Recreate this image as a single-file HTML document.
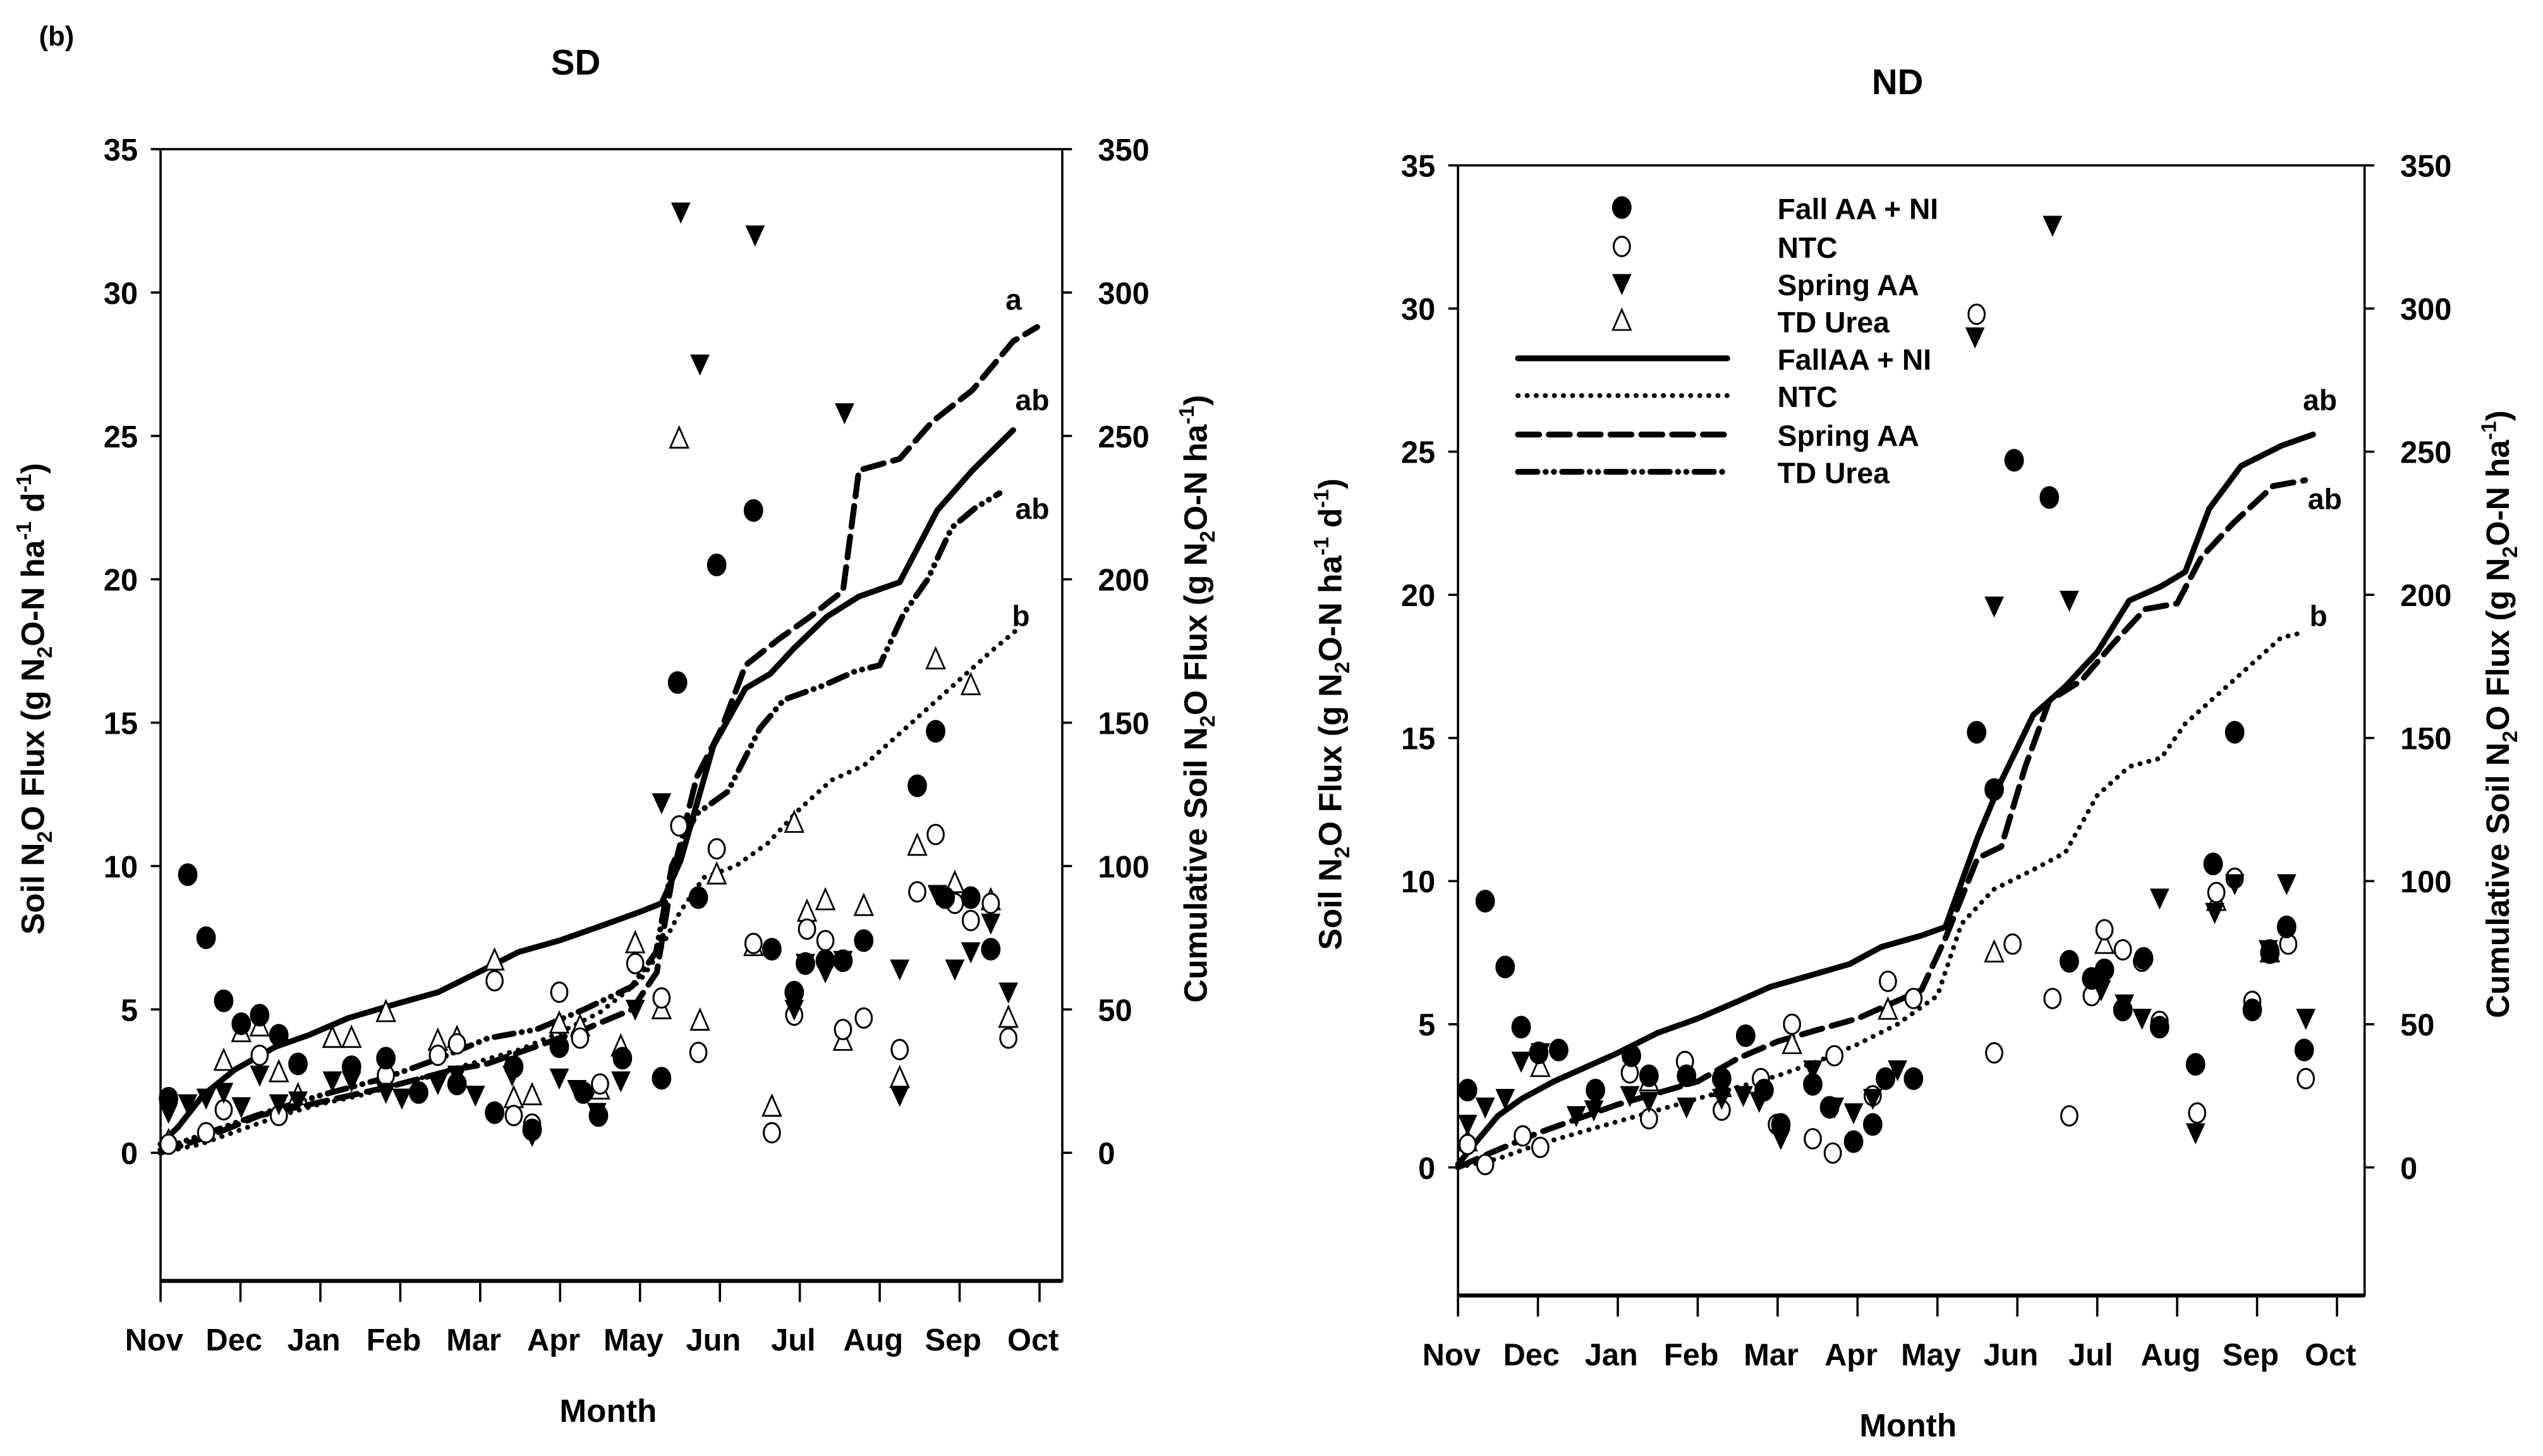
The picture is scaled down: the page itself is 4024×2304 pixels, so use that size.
<!DOCTYPE html>
<html><head><meta charset="utf-8"><style>
html,body{margin:0;padding:0;background:#fff;}
svg{display:block;}
text{font-family:"Liberation Sans Narrow","Liberation Sans",sans-serif;font-weight:bold;fill:#000;}
</style></head><body>
<svg id="chart" width="4024" height="2304" viewBox="0 0 1568 898" preserveAspectRatio="none" xmlns="http://www.w3.org/2000/svg">
<text x="24" y="28" font-size="17" font-family="Liberation Sans">(b)</text>
</svg>
<script>
const months = ["Nov","Dec","Jan","Feb","Mar","Apr","May","Jun","Jul","Aug","Sep","Oct"];
const leftTicks = [0,5,10,15,20,25,30,35];
const rightTicks = [0,50,100,150,200,250,300,350];

// SD panel: [month offset, value]
const sdFallM = [0.1,0.34,0.57,0.79,1.01,1.24,1.48,1.72,2.39,2.82,3.23,3.71,4.18,4.42,4.65,4.99,5.29,5.48,5.78,6.27,6.47,6.73,6.96,7.42,7.65,7.93,8.07,8.32,8.54,8.8,9.47,9.7,9.82,10.14,10.39];
const sdFallV = [1.9,9.7,7.5,5.3,4.5,4.8,4.1,3.1,3.0,3.3,2.1,2.4,1.4,3.0,0.8,3.7,2.1,1.3,3.3,2.6,16.4,8.9,20.5,22.4,7.1,5.6,6.6,6.7,6.7,7.4,12.8,14.7,8.9,8.9,7.1];
const sdNtcM = [0.1,0.57,0.79,1.24,1.48,2.82,3.47,3.71,4.18,4.42,4.65,4.99,5.25,5.5,5.94,6.27,6.49,6.73,6.96,7.42,7.65,7.93,8.09,8.32,8.54,8.8,9.25,9.47,9.7,9.94,10.14,10.39,10.61];
const sdNtcV = [0.3,0.7,1.5,3.4,1.3,2.7,3.4,3.8,6.0,1.3,1.0,5.6,4.0,2.4,6.6,5.4,11.4,3.5,10.6,7.3,0.7,4.8,7.8,7.4,4.3,4.7,3.6,9.1,11.1,8.7,8.1,8.7,4.0];
const sdSpringM = [0.1,0.34,0.57,0.79,1.01,1.24,1.48,1.72,2.15,2.39,2.82,3.02,3.47,3.71,3.94,4.4,4.65,4.99,5.21,5.46,5.76,5.94,6.27,6.51,6.75,7.44,7.93,8.07,8.32,8.54,8.56,9.25,9.25,9.72,9.94,10.14,10.39,10.61];
const sdSpringV = [1.4,1.7,1.9,2.1,1.6,2.7,1.7,1.8,2.5,2.5,2.1,1.9,2.4,2.7,2.0,2.7,0.6,2.6,2.2,1.4,2.5,5.0,12.2,32.8,27.5,32.0,5.0,6.6,6.3,6.7,25.8,6.4,2.0,9.0,6.4,7.0,8.0,5.6];
const sdUreaM = [0.1,0.79,1.01,1.24,1.48,1.72,2.15,2.39,2.82,3.47,3.71,4.18,4.42,4.65,4.99,5.25,5.5,5.76,5.94,6.27,6.49,6.75,6.96,7.42,7.65,7.93,8.09,8.32,8.54,8.8,9.25,9.47,9.7,9.94,10.14,10.39,10.61];
const sdUreaV = [0.4,3.2,4.2,4.4,2.8,2.0,4.0,4.0,4.9,3.9,4.0,6.7,1.9,2.0,4.5,4.4,2.2,3.7,7.3,5.0,24.9,4.6,9.7,7.2,1.6,11.5,8.4,8.8,3.9,8.6,2.6,10.7,17.2,9.4,16.3,8.8,4.7];
// SD cumulative lines
const sdCumFallM = [0,0.22,0.53,0.93,1.44,1.85,2.35,2.96,3.47,3.98,4.48,4.99,5.5,6.0,6.27,6.51,6.92,7.32,7.63,7.93,8.34,8.74,9.25,9.72,10.16,10.67];
const sdCumFallV = [3,9,20,29,37,41,47,52,56,63,70,74,79,84,87,102,142,162,167,176,187,194,199,224,238,252];
const sdCumNtcM = [0,0.5,1,1.5,2,2.5,3,3.5,4,4.5,5,5.5,6,6.2,6.5,6.8,7.2,7.6,8,8.4,8.8,9.2,9.6,10,10.4,10.7];
const sdCumNtcV = [0,3,8,13,17,20,24,28,32,36,42,49,60,68,84,96,100,108,120,130,135,145,155,165,175,182];
const sdCumSpringM = [0,0.63,1.24,2.05,2.86,3.67,4.08,4.69,5.3,5.9,6.21,6.41,6.71,7.02,7.32,7.73,8.13,8.54,8.74,9.25,9.66,10.16,10.67,10.97];
const sdCumSpringV = [0,6,13,18,23,29,31,37,43,50,63,97,131,148,170,179,187,196,238,242,255,266,283,288];
const sdCumUreaM = [0,0.6,1.2,2,2.8,3.5,4.1,4.7,5.3,5.9,6.2,6.4,6.7,7.1,7.5,7.8,8.3,8.7,9,9.3,9.6,9.9,10.2,10.5];
const sdCumUreaV = [1,7,13,20,26,33,40,43,50,58,70,100,118,126,148,158,163,168,170,188,200,218,225,230];

// ND panel
const ndFallM = [0.12,0.34,0.59,0.79,1.01,1.26,1.72,2.17,2.39,2.86,3.3,3.6,3.83,4.04,4.44,4.65,4.95,5.19,5.35,5.7,6.49,6.71,6.96,7.4,7.65,7.93,8.09,8.32,8.58,8.78,9.23,9.45,9.72,9.94,10.16,10.37,10.59];
const ndFallV = [2.7,9.3,7.0,4.9,4.0,4.1,2.7,3.9,3.2,3.2,3.1,4.6,2.7,1.5,2.9,2.1,0.9,1.5,3.1,3.1,15.2,13.2,24.7,23.4,7.2,6.6,6.9,5.5,7.3,4.9,3.6,10.6,15.2,5.5,7.5,8.4,4.1];
const ndNtcM = [0.12,0.34,0.81,1.03,2.15,2.39,2.84,3.3,3.79,3.99,4.18,4.44,4.71,4.69,5.19,5.38,5.7,6.49,6.71,6.94,7.44,7.65,7.93,8.09,8.32,8.56,8.78,9.25,9.49,9.72,9.94,10.16,10.39,10.61];
const ndNtcV = [0.8,0.1,1.1,0.7,3.3,1.7,3.7,2.0,3.1,1.5,5.0,1.0,3.9,0.5,2.5,6.5,5.9,29.8,4.0,7.8,5.9,1.8,6.0,8.3,7.6,7.2,5.1,1.9,9.6,10.1,5.8,7.6,7.8,3.1];
const ndSpringM = [0.12,0.34,0.59,0.79,1.03,1.48,1.7,2.15,2.39,2.86,3.3,3.57,3.77,4.04,4.44,4.71,4.95,5.19,5.5,6.47,6.71,7.44,7.65,8.05,8.34,8.56,8.78,9.23,9.47,9.72,10.14,10.37,10.61];
const ndSpringV = [1.5,2.1,2.4,3.7,4.0,1.8,2.0,2.5,2.3,2.1,2.4,2.5,2.3,1.0,3.4,2.1,1.9,2.4,3.4,29.0,19.6,32.9,19.8,6.2,5.7,5.2,9.4,1.2,8.9,9.9,7.6,9.9,5.2];
const ndUreaM = [0.12,1.03,2.39,3.3,4.18,5.38,6.71,8.09,9.49,10.16];
const ndUreaV = [0.9,3.5,3.0,2.8,4.3,5.5,7.5,7.8,9.3,7.5];
const ndCumFallM = [0,0.2,0.5,0.8,1.2,1.6,2,2.5,3,3.5,3.9,4.4,4.9,5.3,5.8,6.1,6.5,6.8,7.2,7.6,8,8.4,8.8,9.1,9.4,9.8,10.3,10.7];
const ndCumFallV = [1,8,18,24,30,35,40,47,52,58,63,67,71,77,81,84,115,135,158,168,180,198,203,208,230,245,252,256];
const ndCumNtcM = [0,0.5,1,1.5,2,2.5,3,3.5,4,4.5,5,5.5,6,6.3,6.7,7.2,7.6,8,8.4,8.8,9.1,9.5,9.9,10.3,10.6];
const ndCumNtcV = [0,3,8,12,16,20,24,28,32,37,43,50,60,85,97,104,110,130,140,143,155,165,175,185,187];
const ndCumSpringM = [0,0.4,1,1.5,2,2.5,3,3.5,4,4.5,5,5.4,5.8,6.1,6.5,6.8,7.1,7.4,7.8,8.2,8.6,9,9.3,9.7,10.2,10.6];
const ndCumSpringV = [0,5,12,17,22,26,30,38,44,48,52,57,62,80,108,112,140,163,170,183,195,197,213,225,238,240];

const svg = document.getElementById('chart');
const NS = 'http://www.w3.org/2000/svg';
function mk(tag, attrs, parent){const e=document.createElementNS(NS,tag);for(const k in attrs)e.setAttribute(k,attrs[k]);(parent||svg).appendChild(e);return e;}

const lineStyles = {
  fall:{w:3.6,dash:null,cap:'round'},
  ntc:{w:3,dash:'0.1,5.5',cap:'round'},
  spring:{w:3.6,dash:'13,6',cap:'round'},
  urea:{w:3.6,dash:'12,5,0.1,5,0.1,5',cap:'round'}
};

function drawMarker(g,type,cx,cy){
  let e;
  if(type==='fall') e=mk('ellipse',{cx:cx,cy:cy,rx:5.5,ry:6.5,fill:'#000',stroke:'#000','stroke-width':1},g);
  else if(type==='ntc') e=mk('ellipse',{cx:cx,cy:cy,rx:5,ry:6,fill:'#fff',stroke:'#000','stroke-width':1.2},g);
  else if(type==='spring') e=mk('polygon',{points:`${cx-6},${cy-6} ${cx+6},${cy-6} ${cx},${cy+7}`,fill:'#000'},g);
  else e=mk('polygon',{points:`${cx-5.5},${cy+5.5} ${cx+5.5},${cy+5.5} ${cx},${cy-7}`,fill:'#fff',stroke:'#000','stroke-width':1.1},g);
  return e;
}

function panel(cfg){
  const g = mk('g',{});
  
  
  const {x0,x1,yTop,y0,yBot} = cfg;
  const step = 49.27;
  const X = m => x0 + m*step;
  const Y = v => y0 - v*(y0-yTop)/35;
  const YC = c => Y(c/10);
  const frame = mk('rect',{x:x0,y:yTop,width:x1-x0,height:yBot-yTop,fill:'none',stroke:'#000','stroke-width':1.4},g);
  
  
  mk('line',{x1:x0,y1:yBot,x2:x1,y2:yBot,stroke:'#000','stroke-width':2.5},g);
  leftTicks.forEach(t=>{
    mk('line',{x1:x0-6,y1:Y(t),x2:x0,y2:Y(t),stroke:'#000','stroke-width':1.4},g);
    const tx = mk('text',{x:x0-14,y:Y(t)+7,'font-size':19,'text-anchor':'end'},g);
    tx.textContent = t;
    
    
  });
  rightTicks.forEach(t=>{
    mk('line',{x1:x1,y1:YC(t),x2:x1+6,y2:YC(t),stroke:'#000','stroke-width':1.4},g);
    const tx = mk('text',{x:x1+22,y:YC(t)+7,'font-size':19,'text-anchor':'start'},g);
    tx.textContent = t;
    
    
  });
  months.forEach((mo,i)=>{
    mk('line',{x1:X(i),y1:yBot,x2:X(i),y2:yBot+13,stroke:'#000','stroke-width':1.4},g);
    const tx = mk('text',{x:X(i)-4,y:yBot+43,'font-size':19,'text-anchor':'middle'},g);
    tx.textContent = mo;
    
    
  });
  const xt = mk('text',{x:(x0+x1)/2-2,y:yBot+87,'font-size':20,'text-anchor':'middle','font-family':'Liberation Sans'},g);
  xt.textContent='Month';
  
  
  const lyc = (yTop+yBot)/2 - 10;
  const yt = mk('text',{x:0,y:0,'font-size':20,'text-anchor':'middle','font-family':'Liberation Sans',transform:`translate(${x0-72},${lyc}) rotate(-90)`},g);
  yt.innerHTML='Soil N<tspan font-size="13" dy="5">2</tspan><tspan dy="-5">O Flux (g N</tspan><tspan font-size="13" dy="5">2</tspan><tspan dy="-5">O-N ha</tspan><tspan font-size="13" dy="-8">-1</tspan><tspan dy="8"> d</tspan><tspan font-size="13" dy="-8">-1</tspan><tspan dy="8">)</tspan>';
  
  
  const y2 = mk('text',{x:0,y:0,'font-size':20,'text-anchor':'middle','font-family':'Liberation Sans',transform:`translate(${x1+89},${lyc}) rotate(-90)`},g);
  y2.innerHTML='Cumulative Soil N<tspan font-size="13" dy="5">2</tspan><tspan dy="-5">O Flux (g N</tspan><tspan font-size="13" dy="5">2</tspan><tspan dy="-5">O-N ha</tspan><tspan font-size="13" dy="-8">-1</tspan><tspan dy="8">)</tspan>';
  
  
  const tt = mk('text',{x:cfg.titleX,y:cfg.titleY,'font-size':22,'text-anchor':'middle','font-family':'Liberation Sans'},g);
  tt.textContent = cfg.title;
  
  
  cfg.lines.forEach(l=>{
    const st = lineStyles[l.type];
    const pts = l.m.map((m,i)=>X(m).toFixed(1)+','+YC(l.v[i]).toFixed(1)).join(' ');
    const a = {points:pts,fill:'none',stroke:'#000','stroke-width':st.w,'stroke-linecap':st.cap,'stroke-linejoin':'round'};
    if(st.dash) a['stroke-dasharray']=st.dash;
    const pl = mk('polyline',a,g);
    
    
  });
  cfg.points.forEach(p=>{
    p.m.forEach((m,i)=>{
      const e = drawMarker(g,p.type,X(m),Y(p.v[i]));
      
      
    });
  });
  cfg.letters.forEach(L=>{
    const tx = mk('text',{x:L[0],y:L[1],'font-size':18,'text-anchor':'start'},g);
    tx.textContent = L[2];
    
    
  });
  return g;
}

panel({name:'sd-panel',title:'SD',titleX:355,titleY:46,x0:99,x1:655,yTop:92,y0:711,yBot:790,
  lines:[{type:'ntc',m:sdCumNtcM,v:sdCumNtcV},{type:'urea',m:sdCumUreaM,v:sdCumUreaV},{type:'spring',m:sdCumSpringM,v:sdCumSpringV},{type:'fall',m:sdCumFallM,v:sdCumFallV}],
  points:[{type:'urea',m:sdUreaM,v:sdUreaV},{type:'ntc',m:sdNtcM,v:sdNtcV},{type:'spring',m:sdSpringM,v:sdSpringV},{type:'fall',m:sdFallM,v:sdFallV}],
  letters:[[620,191,'a'],[626,253,'ab'],[626,320,'ab'],[624,386,'b']]});

panel({name:'nd-panel',title:'ND',titleX:1170,titleY:58,x0:899,x1:1458,yTop:102,y0:720,yBot:799,
  lines:[{type:'ntc',m:ndCumNtcM,v:ndCumNtcV},{type:'spring',m:ndCumSpringM,v:ndCumSpringV},{type:'fall',m:ndCumFallM,v:ndCumFallV}],
  points:[{type:'urea',m:ndUreaM,v:ndUreaV},{type:'ntc',m:ndNtcM,v:ndNtcV},{type:'spring',m:ndSpringM,v:ndSpringV},{type:'fall',m:ndFallM,v:ndFallV}],
  letters:[[1420,253,'ab'],[1423,314,'ab'],[1424,386,'b']]});

const legend = mk('g',{});


const legLabels = ['Fall AA + NI','NTC','Spring AA','TD Urea','FallAA + NI','NTC','Spring AA','TD Urea'];
const legTypes = ['fall','ntc','spring','urea','fall','ntc','spring','urea'];
const legY = [128,152,175,198,221,244,268,291];
legLabels.forEach((lab,i)=>{
  const it = mk('g',{},legend);
  
  
  if(i<4){ drawMarker(it,legTypes[i],1000,legY[i]); }
  else {
    const st = lineStyles[legTypes[i]];
    const a={x1:936,y1:legY[i],x2:1065,y2:legY[i],stroke:'#000','stroke-width':st.w,'stroke-linecap':'round'};
    if(st.dash) a['stroke-dasharray']=st.dash;
    mk('line',a,it);
  }
  const t = mk('text',{x:1096,y:legY[i]+7,'font-size':18},it);
  t.textContent = lab;
});
</script>
</body></html>
